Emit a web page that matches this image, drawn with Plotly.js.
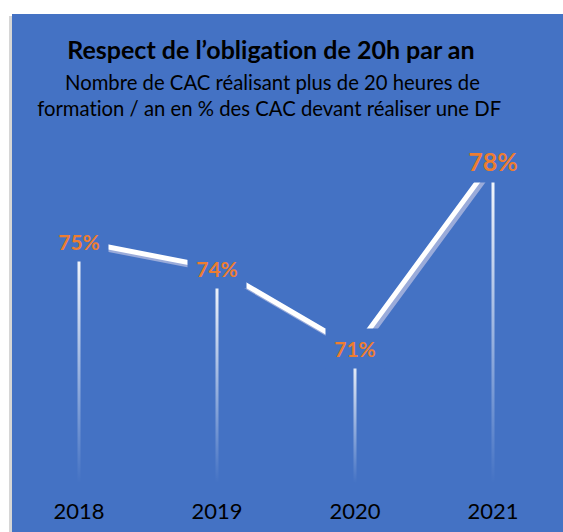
<!DOCTYPE html>
<html>
<head>
<meta charset="utf-8">
<script src="https://cdn.plot.ly/plotly-3.0.1.min.js"></script>
<style>
  html, body { margin: 0; padding: 0; background: #ffffff; }
  #chart { width: 563px; height: 532px; }
  #chart text { font-variant-ligatures: none; font-feature-settings: "liga" 0, "clig" 0; }
</style>
</head>
<body>
<div id="chart"></div>
<script>
// ---- data ----
const years = ['2018', '2019', '2020', '2021'];
const values = [75, 74, 71, 78];
const valueLabels = ['75%', '74%', '71%', '78%'];
const yMin = 66;
const yMax = 80;

const titleText = 'Respect de l’obligation de 20h par an';
const subtitleLine1 = 'Nombre de CAC réalisant plus de 20 heures de';
const subtitleLine2 = 'formation / an en % des CAC devant réaliser une DF';

// label styling (sizes per label, the last one is drawn larger)
const labelFontSizes = [21, 21, 21, 25];
const labelBoxHeights = [39, 39, 39, 42];

// ---- geometry helpers ----
const W = 563, H = 532;
const M = { l: 10, r: 1, t: 107, b: 49 };
const plotW = W - M.l - M.r;   // 552
const plotH = H - M.t - M.b;   // 376
const pxPerCat = plotW / years.length;
const pxPerUnit = plotH / (yMax - yMin);
const px2paperX = px => (px - M.l) / plotW;
const px2paperY = py => (H - M.b - py) / plotH;

const BLUE = '#4472C4';
const ORANGE = '#ED7D31';
const FONT = 'Lato, "Open Sans", sans-serif';

const xIdx = years.map((_, i) => i);

const traces = [];

// drop lines (gradient, white at top fading down)
const halfW = 1.5 / pxPerCat;
values.forEach((v, i) => {
  traces.push({
    type: 'scatter', mode: 'lines',
    x: [i - halfW, i + halfW, i + halfW, i - halfW, i - halfW],
    y: [yMin, yMin, v, v, yMin],
    fill: 'toself',
    fillgradient: {
      type: 'vertical',
      colorscale: [[0, 'rgba(255,255,255,0)'], [0.25, 'rgba(255,255,255,0.25)'], [1, 'rgba(255,255,255,1)']]
    },
    line: { width: 0, color: 'rgba(0,0,0,0)' },
    hoverinfo: 'skip', showlegend: false
  });
});

// shadow of main line
const shDx = 3 / pxPerCat, shDy = 3 / pxPerUnit;
traces.push({
  type: 'scatter', mode: 'lines',
  x: xIdx.map(i => i + shDx),
  y: values.map(v => v - shDy),
  line: { color: '#9AABDA', width: 5 },
  hoverinfo: 'skip', showlegend: false
});

// main line
traces.push({
  type: 'scatter', mode: 'lines',
  x: xIdx, y: values,
  line: { color: '#FFFFFF', width: 5 },
  showlegend: false
});

const annotations = [];
// value labels with masking box
values.forEach((v, i) => {
  annotations.push({
    x: i, y: v, xref: 'x', yref: 'y',
    text: '<b>' + valueLabels[i] + '</b>',
    showarrow: false,
    width: 58, height: labelBoxHeights[i],
    bgcolor: BLUE, borderpad: 0,
    font: { family: FONT, size: labelFontSizes[i], color: ORANGE },
    xanchor: 'center', yanchor: 'middle', align: 'center', valign: 'middle'
  });
});

// titles
annotations.push({
  xref: 'paper', yref: 'paper', x: px2paperX(271), y: px2paperY(49),
  xanchor: 'center', yanchor: 'middle', showarrow: false,
  text: '<b>' + titleText + '</b>',
  font: { family: FONT, size: 25, color: '#000000' }
});
annotations.push({
  xref: 'paper', yref: 'paper', x: px2paperX(272), y: px2paperY(82),
  xanchor: 'center', yanchor: 'middle', showarrow: false,
  text: subtitleLine1,
  font: { family: FONT, size: 20.3, color: '#000000' }
});
annotations.push({
  xref: 'paper', yref: 'paper', x: px2paperX(269), y: px2paperY(108),
  xanchor: 'center', yanchor: 'middle', showarrow: false,
  text: subtitleLine2,
  font: { family: FONT, size: 20.3, color: '#000000' }
});

const shapes = [
  { type: 'rect', xref: 'paper', yref: 'paper', layer: 'below',
    x0: px2paperX(9), x1: px2paperX(12), y0: px2paperY(532), y1: px2paperY(16),
    fillcolor: '#D6D6D6', line: { width: 0 } },
  { type: 'rect', xref: 'paper', yref: 'paper', layer: 'below',
    x0: px2paperX(12), x1: px2paperX(564), y0: px2paperY(533), y1: px2paperY(14),
    fillcolor: BLUE, line: { width: 0 } }
];

const layout = {
  width: W, height: H,
  margin: M,
  paper_bgcolor: '#FFFFFF',
  plot_bgcolor: 'rgba(0,0,0,0)',
  showlegend: false,
  xaxis: {
    range: [-0.5, years.length - 0.5],
    tickvals: xIdx, ticktext: years,
    showgrid: false, zeroline: false, showline: false,
    ticks: '', ticklabelstandoff: 13,
    tickfont: { family: FONT, size: 22, color: '#000000' },
    fixedrange: true
  },
  yaxis: {
    range: [yMin, yMax],
    visible: false, showgrid: false, zeroline: false,
    fixedrange: true
  },
  shapes: shapes,
  annotations: annotations
};

Plotly.newPlot('chart', traces, layout, { displayModeBar: false, staticPlot: true });
</script>
</body>
</html>
